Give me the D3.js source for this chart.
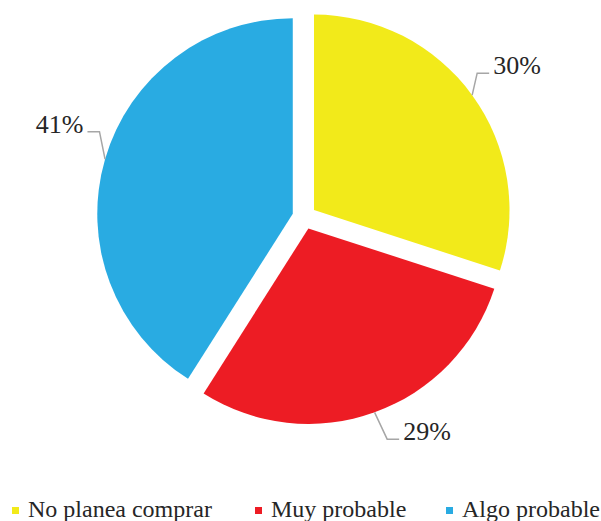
<!DOCTYPE html>
<html>
<head>
<meta charset="utf-8">
<script src="https://cdn.jsdelivr.net/npm/d3@7"></script>
<style>
  html, body { margin: 0; padding: 0; background: #fff; }
  svg { display: block; }
  text { font-family: "Liberation Serif", Tinos, "Times New Roman", Times, serif; }
</style>
</head>
<body>
<svg id="chart" width="601" height="521"></svg>
<script>
// ---- data ----
const categories = ["No planea comprar", "Muy probable", "Algo probable"];
const values = [30, 29, 41];
const labels = ["30%", "29%", "41%"];
const colors = ["#F2EA1A", "#ED1C24", "#29ABE2"];

// ---- layout ----
const W = 601, H = 521;
const cx = 304.3, cy = 217.1, R = 195.5, explode = 12;
// leader elbow placement per slice (polar around exploded centre), and side
const leader = [
  { angDeg: 50, r: 213, side: 1 },
  { angDeg: 159.5, r: 225, side: 1 },
  { angDeg: 293, r: 210, side: -1 }
];

const svg = d3.select("#chart");
const data = categories.map((c, i) => ({ cat: c, value: values[i], label: labels[i], color: colors[i], i }));

const pie = d3.pie().value(d => d.value).sort(null).startAngle(0).endAngle(2 * Math.PI);
const arcs = pie(data);
const arc = d3.arc().innerRadius(0).outerRadius(R);

const g = svg.append("g").attr("transform", `translate(${cx},${cy})`);

arcs.forEach(a => {
  const mid = (a.startAngle + a.endAngle) / 2;
  const ox = explode * Math.sin(mid), oy = -explode * Math.cos(mid);
  const sg = g.append("g").attr("transform", `translate(${ox},${oy})`);
  sg.append("path").attr("d", arc(a)).attr("fill", a.data.color);

  // leader line
  const sx = R * Math.sin(mid), sy = -R * Math.cos(mid);
  const L = leader[a.index];
  const ea = L.angDeg * Math.PI / 180;
  const ex = L.r * Math.sin(ea), ey = -L.r * Math.cos(ea);
  const hx = ex + L.side * 12;
  sg.append("path")
    .attr("d", `M${sx},${sy}L${ex},${ey}L${hx},${ey}`)
    .attr("fill", "none")
    .attr("stroke", "#A6A6A6")
    .attr("stroke-width", 1.5);
  sg.append("text")
    .attr("x", hx + L.side * 4)
    .attr("y", ey + 1)
    .attr("text-anchor", L.side > 0 ? "start" : "end")
    .attr("font-size", 26)
    .attr("fill", "#262626")
    .text(a.data.label);
});

// ---- legend ----
const legendX = [12, 255, 446];
const lg = svg.append("g");
data.forEach((d, i) => {
  lg.append("rect")
    .attr("x", legendX[i]).attr("y", 507)
    .attr("width", 7).attr("height", 7)
    .attr("fill", d.color);
  lg.append("text")
    .attr("x", legendX[i] + 16).attr("y", 517)
    .attr("font-size", 24)
    .attr("fill", "#262626")
    .text(d.cat);
});
</script>
</body>
</html>
